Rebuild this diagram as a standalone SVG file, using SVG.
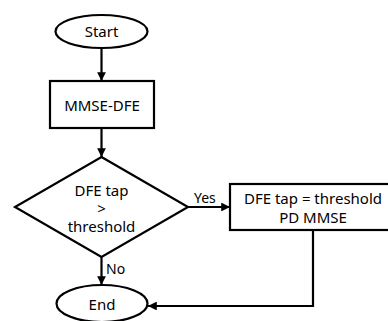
<svg xmlns="http://www.w3.org/2000/svg" width="388" height="321" viewBox="0 0 388 321">
<defs>
<marker id="ah" viewBox="0 0 10 10" refX="10" refY="5" markerWidth="4" markerHeight="4" orient="auto" markerUnits="strokeWidth">
<path d="M0,0 L10,5 L0,10 Z" fill="#000"/>
</marker>
<style>
.s{fill:#fff;stroke:#000;stroke-width:2.2}
.t{font-family:"Noto Sans","Open Sans",sans-serif;font-size:15px;fill:#000;text-anchor:middle;dominant-baseline:central}
.c{fill:none;stroke:#000;stroke-width:2.2;marker-end:url(#ah)}
.l{font-family:"Noto Sans","Open Sans",sans-serif;font-size:14px;fill:#000}
</style>
</defs>
<rect width="388" height="321" fill="#fff"/>
<g id="connectors">
<path class="c" d="M101.5,48 V81"/>
<path class="c" d="M101.5,128 V157"/>
<path class="c" d="M101.5,257 V285"/>
<path class="c" d="M188,207 H230"/>
<path class="c" d="M313,230 V306 H148"/>
<text class="l" x="106" y="274">No</text>
<text class="l" x="194" y="203">Yes</text>
</g>
<g id="start">
<ellipse class="s" cx="101.5" cy="31.5" rx="46" ry="16.5"/>
<text class="t" x="101.5" y="31">Start</text>
</g>
<g id="mmse">
<rect class="s" x="50" y="81" width="104" height="47"/>
<text class="t" x="102" y="105">MMSE-DFE</text>
</g>
<g id="decision">
<path class="s" d="M101.5,157 L188,207 L101.5,257 L15,207 Z"/>
<text class="t" x="101.5" y="190">DFE tap</text>
<text class="t" x="101.5" y="208">&gt;</text>
<text class="t" x="101.5" y="226">threshold</text>
</g>
<g id="pd">
<rect class="s" x="230" y="184" width="166" height="46"/>
<text class="t" x="313" y="198">DFE tap = threshold</text>
<text class="t" x="313" y="217">PD MMSE</text>
</g>
<g id="end">
<ellipse class="s" cx="102" cy="303.5" rx="45.5" ry="18.5"/>
<text class="t" x="102" y="304">End</text>
</g>
</svg>
